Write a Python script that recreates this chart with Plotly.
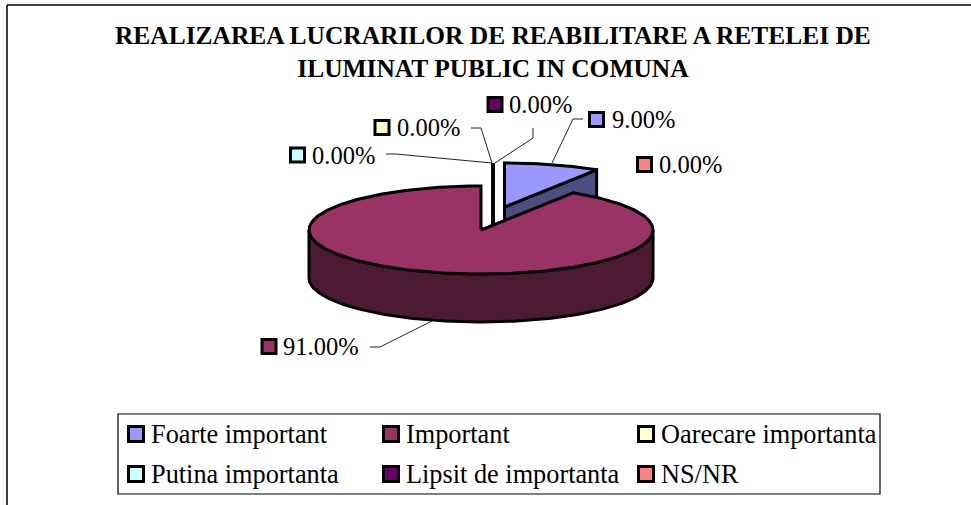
import math
import plotly.graph_objects as go

TITLE = "<b>REALIZAREA LUCRARILOR DE REABILITARE A RETELEI DE<br>ILUMINAT PUBLIC IN COMUNA</b>"
categories = ["Foarte important", "Important", "Oarecare importanta",
              "Putina importanta", "Lipsit de importanta", "NS/NR"]
values = [9.0, 91.0, 0.0, 0.0, 0.0, 0.0]
colors = ["#9999FF", "#993366", "#FFFFCC", "#CCFFFF", "#660066", "#FF8080"]
side_colors = ["#4D4D80", "#4D1A33", "#808066", "#668080", "#330033", "#804040"]

# label anchor (swatch centre) per slice
label_pos = [(596.5, 119.5), (269, 346.5), (382, 127.5), (297.5, 155), (495, 104.5), (644.5, 164.5)]
label_text_x = [612, 283, 397, 312, 509, 659]
leaders = [
    [(583, 119), (573, 119), (552, 163)],
    [(370, 347), (380, 347), (432, 321)],
    [(471, 128), (481, 128), (492, 163)],
    [(386, 154), (396, 154), (492, 163)],
    [(533, 128), (533, 138), (495, 163)],
    [],
]
legend_pos = [(136, 434), (391, 434), (646, 434), (136, 474), (391, 474), (646, 474)]

CX, CY, RX, RY, DEPTH = 481.0, 230.0, 172.0, 44.0, 48.0
EXPLODE = [(23.5, -23), (0, 0), (12, -23), (12, -23), (12, -23), (12, -23)]
FONT = "Liberation Serif"
BLACK = "#000000"

total = sum(values)
angles = []
c = 0.0
for v in values:
    angles.append((c, c + v / total * 360.0))
    c += v / total * 360.0


def pt(theta, ox=0.0, oy=0.0, dy=0.0):
    t = math.radians(theta)
    return CX + ox + RX * math.sin(t), CY + oy + dy - RY * math.cos(t)


def arc(a, b, ox=0.0, oy=0.0, dy=0.0, step=1.0):
    n = max(1, int(abs(b - a) / step))
    return [pt(a + (b - a) * i / n, ox, oy, dy) for i in range(n + 1)]


def poly(fig, pts, fill, width=3):
    fig.add_trace(go.Scatter(
        x=[p[0] for p in pts], y=[p[1] for p in pts], mode="lines",
        line=dict(color=BLACK, width=width, shape="linear"),
        fill="toself", fillcolor=fill, hoverinfo="skip", showlegend=False))


fig = go.Figure()

# zero-size slices: thin black sliver, exploded, behind the rest
for i, v in enumerate(values):
    if v == 0:
        ox, oy = EXPLODE[i]
        a = angles[i][1] % 360
        p = pt(a, ox, oy)
        fig.add_trace(go.Scatter(
            x=[p[0], CX + ox, CX + ox], y=[p[1], CY + oy, CY + oy + DEPTH], mode="lines",
            line=dict(color=BLACK, width=3.6), hoverinfo="skip", showlegend=False))

# small exploded slice: cut face then top
a0, a1 = angles[0]
ox, oy = EXPLODE[0]
apex = (CX + ox, CY + oy)
r = pt(a1, ox, oy)
poly(fig, [apex, r, (r[0], r[1] + DEPTH), (apex[0], apex[1] + DEPTH), apex], side_colors[0])
poly(fig, [apex] + arc(a0, a1, ox, oy) + [apex], colors[0])

# main slice: outer wall then top
a0, a1 = angles[1]
wall = arc(90, 270) + arc(270, 90, dy=DEPTH)
poly(fig, wall + [wall[0]], side_colors[1])
top = [(CX, CY)] + arc(a0, a1) + [(CX, CY)]
poly(fig, top, colors[1])

# leader lines
for seg in leaders:
    if seg:
        fig.add_trace(go.Scatter(
            x=[p[0] for p in seg], y=[p[1] for p in seg], mode="lines",
            line=dict(color="#222222", width=1), hoverinfo="skip", showlegend=False))

# swatches for data labels and legend
fig.add_trace(go.Scatter(
    x=[p[0] for p in label_pos] + [p[0] for p in legend_pos],
    y=[p[1] for p in label_pos] + [p[1] for p in legend_pos],
    mode="markers",
    marker=dict(symbol="square", size=[14] * 6 + [15] * 6, color=colors + colors, opacity=1,
                line=dict(color=BLACK, width=3)),
    hoverinfo="skip", showlegend=False))

ann = []
for i, v in enumerate(values):
    ann.append(dict(x=label_text_x[i], y=label_pos[i][1], text=f"{v:.2f}%", xanchor="left",
                    yanchor="middle", showarrow=False, xref="x", yref="y", xshift=-2,
                    font=dict(family=FONT, size=24.5, color=BLACK)))
for i, name in enumerate(categories):
    ann.append(dict(x=legend_pos[i][0] + 15, y=legend_pos[i][1], text=name, xanchor="left",
                    yanchor="middle", showarrow=False, xref="x", yref="y", xshift=-2,
                    font=dict(family=FONT, size=26.3, color=BLACK)))
ann.append(dict(x=492.5, y=52, text=TITLE, xanchor="center", yanchor="middle", showarrow=False,
                xref="x", yref="y", align="center",
                font=dict(family=FONT, size=25.45, color=BLACK)))

shapes = [
    dict(type="line", x0=7, x1=971, y0=5, y1=5, xref="x", yref="y", line=dict(color=BLACK, width=1.5)),
    dict(type="line", x0=7, x1=7, y0=5, y1=505, xref="x", yref="y", line=dict(color=BLACK, width=1.5)),
    dict(type="rect", x0=118, x1=880, y0=414, y1=494, xref="x", yref="y", layer="below",
         line=dict(color=BLACK, width=1.2), fillcolor="#FFFFFF"),
]

fig.update_layout(
    width=971, height=505, autosize=False,
    margin=dict(l=0, r=0, t=0, b=0),
    paper_bgcolor="#FFFFFF", plot_bgcolor="#FFFFFF",
    xaxis=dict(range=[0, 971], visible=False, fixedrange=True),
    yaxis=dict(range=[505, 0], visible=False, fixedrange=True),
    annotations=ann, shapes=shapes, showlegend=False,
)
fig.write_html("out.html", config={"displayModeBar": False},
               post_script="document.body.style.margin='0';document.body.style.overflow='hidden';")
